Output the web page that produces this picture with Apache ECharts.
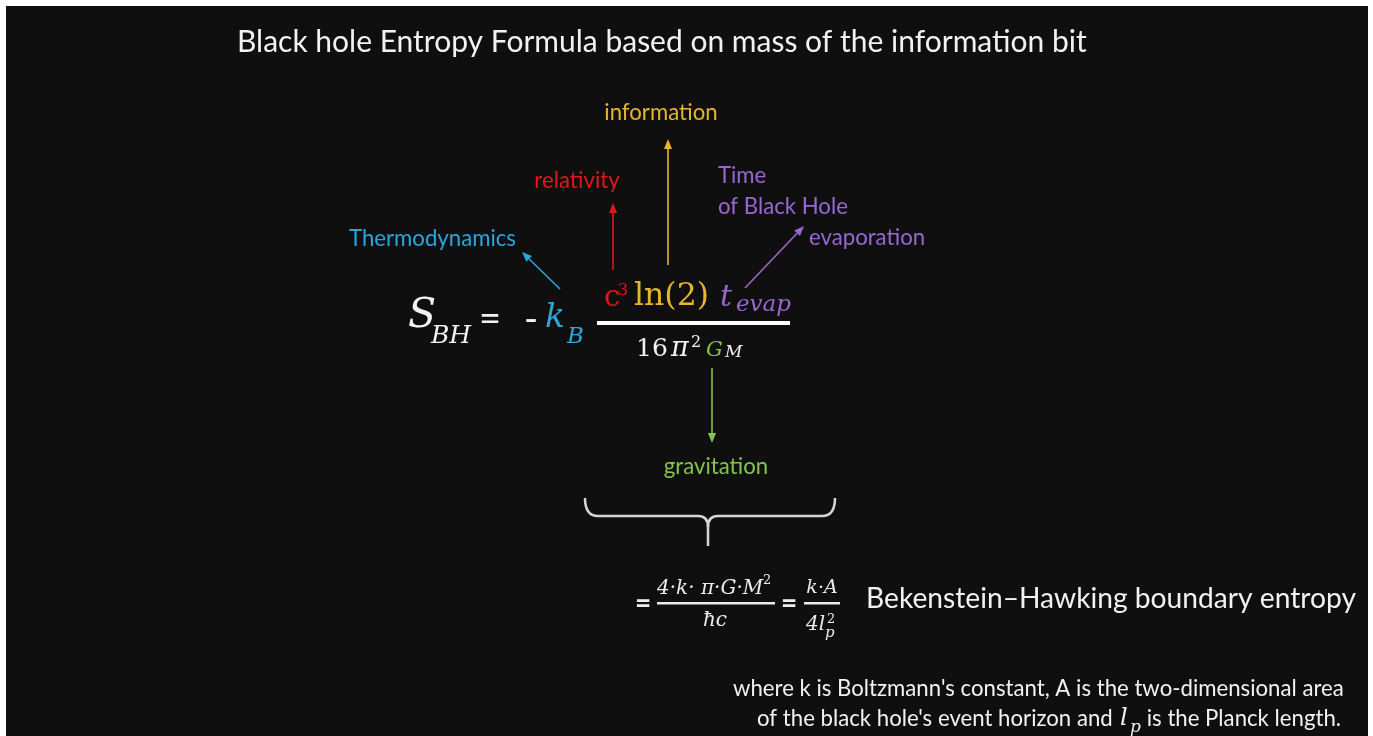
<!DOCTYPE html>
<html>
<head>
<meta charset="utf-8">
<script src="https://cdn.jsdelivr.net/npm/echarts@6/dist/echarts.min.js"></script>
<style>
  html, body { margin: 0; background: #fff; }
  #main { width: 1373px; height: 736px; }
</style>
</head>
<body>
<div id="main"></div>
<script>
// texts of the slide
const titleText = 'Black hole Entropy Formula based on mass of the information bit';
const conceptLabels = ['Thermodynamics', 'relativity', 'information', 'gravitation'];
const evapLabels = ['Time', 'of Black Hole', 'evaporation'];
const numeratorParts = ['c', '3', 'ln(2)', 't', 'evap'];
const denominatorParts = ['16', 'π', '2', 'G', 'M'];
const boundaryName = 'Bekenstein–Hawking boundary entropy';
const footnoteLines = ["where k is Boltzmann's constant, A is the two-dimensional area", "of the black hole's event horizon and", 'is the Planck length.'];

const SANS = 'Lato, "Open Sans", sans-serif';
const SERIF = '"DejaVu Serif", serif';
const WHITE = '#f2f2f2';
const BLUE = '#2aa6dd';
const RED = '#e3161a';
const YELLOW = '#e6b52a';
const PURPLE = '#9a66d2';
const GREEN = '#82c44e';

// size a sans font so a line takes the width it has on the slide
const measureCtx = document.createElement('canvas').getContext('2d');
function fitSize(text, width) {
  measureCtx.font = '100px ' + SANS;
  return 100 * width / measureCtx.measureText(text).width;
}

// text placed by its baseline
function txt(text, x, base, size, fill, opts) {
  opts = opts || {};
  const font = (opts.italic ? 'italic ' : '') + (opts.bold ? 'bold ' : '') + size.toFixed(1) + 'px ' + (opts.serif ? SERIF : SANS);
  return {
    type: 'text', x: x, y: base - size * 0.34,
    style: { text: text, font: font, fill: fill, textAlign: opts.align || 'left', textVerticalAlign: 'middle' }
  };
}

function arrow(x1, y1, x2, y2, color) {
  const a = Math.atan2(y2 - y1, x2 - x1), L = 10, W = 4;
  const bx = x2 - L * Math.cos(a), by = y2 - L * Math.sin(a);
  return [
    { type: 'line', shape: { x1: x1, y1: y1, x2: bx, y2: by }, style: { stroke: color, lineWidth: 1.6 } },
    { type: 'polygon', shape: { points: [[x2, y2], [bx + W * Math.sin(a), by - W * Math.cos(a)], [bx - W * Math.sin(a), by + W * Math.cos(a)]] }, style: { fill: color } }
  ];
}

const labelSize = fitSize(conceptLabels[0], 167);
const titleSize = fitSize(titleText, 850);
const nameSize = fitSize(boundaryName, 490);
const footSize = fitSize(footnoteLines[0], 610);

let els = [];
// slide background
els.push({ type: 'rect', shape: { x: 6, y: 6, width: 1362, height: 740 }, style: { fill: '#0f0f0f' } });

els.push(txt(titleText, 237, 53, titleSize, WHITE));

// concept labels and arrows
els.push(txt(conceptLabels[0], 349, 246, labelSize, BLUE));
els.push(txt(conceptLabels[1], 577, 188, labelSize, RED, { align: 'center' }));
els.push(txt(conceptLabels[2], 661, 120, labelSize, YELLOW, { align: 'center' }));
els.push(txt(evapLabels[0], 718, 183, labelSize, PURPLE));
els.push(txt(evapLabels[1], 718, 214, labelSize, PURPLE));
els.push(txt(evapLabels[2], 809, 245, labelSize, PURPLE));
els.push(txt(conceptLabels[3], 716, 474, labelSize, GREEN, { align: 'center' }));

els = els.concat(arrow(560, 289, 522, 252, BLUE));
els = els.concat(arrow(613, 270, 613, 203, RED));
els = els.concat(arrow(668, 265, 668, 139, YELLOW));
els = els.concat(arrow(745, 288, 804, 226, PURPLE));
els = els.concat(arrow(712, 368, 712, 443, GREEN));

// S_BH = - k_B (fraction)
els.push(txt('S', 408, 330, 41, WHITE, { italic: true, serif: true }));
els.push(txt('BH', 431, 345, 25, WHITE, { italic: true, serif: true }));
els.push(txt('=', 479, 333, 38, WHITE));
els.push(txt('-', 524, 333, 38, WHITE));
els.push(txt('k', 545, 330, 33, BLUE, { italic: true, serif: true }));
els.push(txt('B', 567, 345, 23, BLUE, { italic: true, serif: true }));
els.push({ type: 'rect', shape: { x: 597, y: 321, width: 193, height: 4 }, style: { fill: '#ffffff' } });

els.push(txt(numeratorParts[0], 604, 308, 29, RED, { serif: true }));
els.push(txt(numeratorParts[1], 618, 296, 16, RED, { serif: true }));
els.push(txt(numeratorParts[2], 634, 308, 31.5, YELLOW, { serif: true }));
els.push(txt(numeratorParts[3], 720, 308, 30, PURPLE, { italic: true, serif: true }));
els.push(txt(numeratorParts[4], 736, 313, 23, PURPLE, { italic: true, serif: true }));

els.push(txt(denominatorParts[0], 636, 358, 25, WHITE, { serif: true }));
els.push(txt(denominatorParts[1], 671, 358, 27, WHITE, { italic: true, serif: true }));
els.push(txt(denominatorParts[2], 691, 348, 16, WHITE, { serif: true }));
els.push(txt(denominatorParts[3], 706, 358, 21, GREEN, { italic: true, serif: true }));
els.push(txt(denominatorParts[4], 725, 358, 17, WHITE, { italic: true, serif: true }));

// brace
const BR = '#d6d6d6';
[
  { type: 'bezierCurve', shape: { x1: 585, y1: 498, cpx1: 585, cpy1: 516, x2: 598, y2: 516 } },
  { type: 'line', shape: { x1: 598, y1: 516, x2: 698, y2: 516 } },
  { type: 'bezierCurve', shape: { x1: 698, y1: 516, cpx1: 708, cpy1: 516, x2: 708, y2: 527 } },
  { type: 'line', shape: { x1: 708, y1: 527, x2: 708, y2: 546 } },
  { type: 'bezierCurve', shape: { x1: 718, y1: 516, cpx1: 708, cpy1: 516, x2: 708, y2: 527 } },
  { type: 'line', shape: { x1: 718, y1: 516, x2: 822, y2: 516 } },
  { type: 'bezierCurve', shape: { x1: 822, y1: 516, cpx1: 835, cpy1: 516, x2: 835, y2: 498 } }
].forEach(function (p) {
  p.style = { stroke: BR, lineWidth: 2.5, fill: null };
  els.push(p);
});

// = 4kπGM²/ħc = kA/4lp²
const LG = '#ececec';
els.push(txt('=', 635, 613, 28, LG, { bold: true }));
els.push(txt('4·k· π·G·M', 657, 596, 20, LG, { italic: true, serif: true }));
els.push(txt('2', 763, 585, 13, LG, { serif: true }));
els.push({ type: 'rect', shape: { x: 657, y: 602, width: 118, height: 2.5 }, style: { fill: LG } });
els.push(txt('ħc', 715, 628, 20, LG, { italic: true, serif: true, align: 'center' }));
els.push(txt('=', 781, 613, 28, LG, { bold: true }));
els.push(txt('k·A', 822, 595, 19, LG, { italic: true, serif: true, align: 'center' }));
els.push({ type: 'rect', shape: { x: 804, y: 602, width: 36, height: 2.5 }, style: { fill: LG } });
els.push(txt('4l', 806, 632, 20, LG, { italic: true, serif: true }));
els.push(txt('p', 825, 638, 15, LG, { italic: true, serif: true }));
els.push(txt('2', 827, 624, 13, LG, { serif: true }));

els.push(txt(boundaryName, 866, 608, nameSize, WHITE));

// footnote
els.push(txt(footnoteLines[0], 733, 696, footSize, WHITE));
els.push(txt(footnoteLines[1], 757, 726, footSize, WHITE));
els.push(txt('l', 1120, 727, 24, WHITE, { italic: true, serif: true }));
els.push(txt('p', 1130, 733, 17, WHITE, { italic: true, serif: true }));
els.push(txt(footnoteLines[2], 1341, 726, footSize, WHITE, { align: 'right' }));

const chart = echarts.init(document.getElementById('main'), null, { renderer: 'canvas' });
chart.setOption({
  backgroundColor: '#ffffff',
  animation: false,
  graphic: { elements: els }
});
</script>
</body>
</html>
